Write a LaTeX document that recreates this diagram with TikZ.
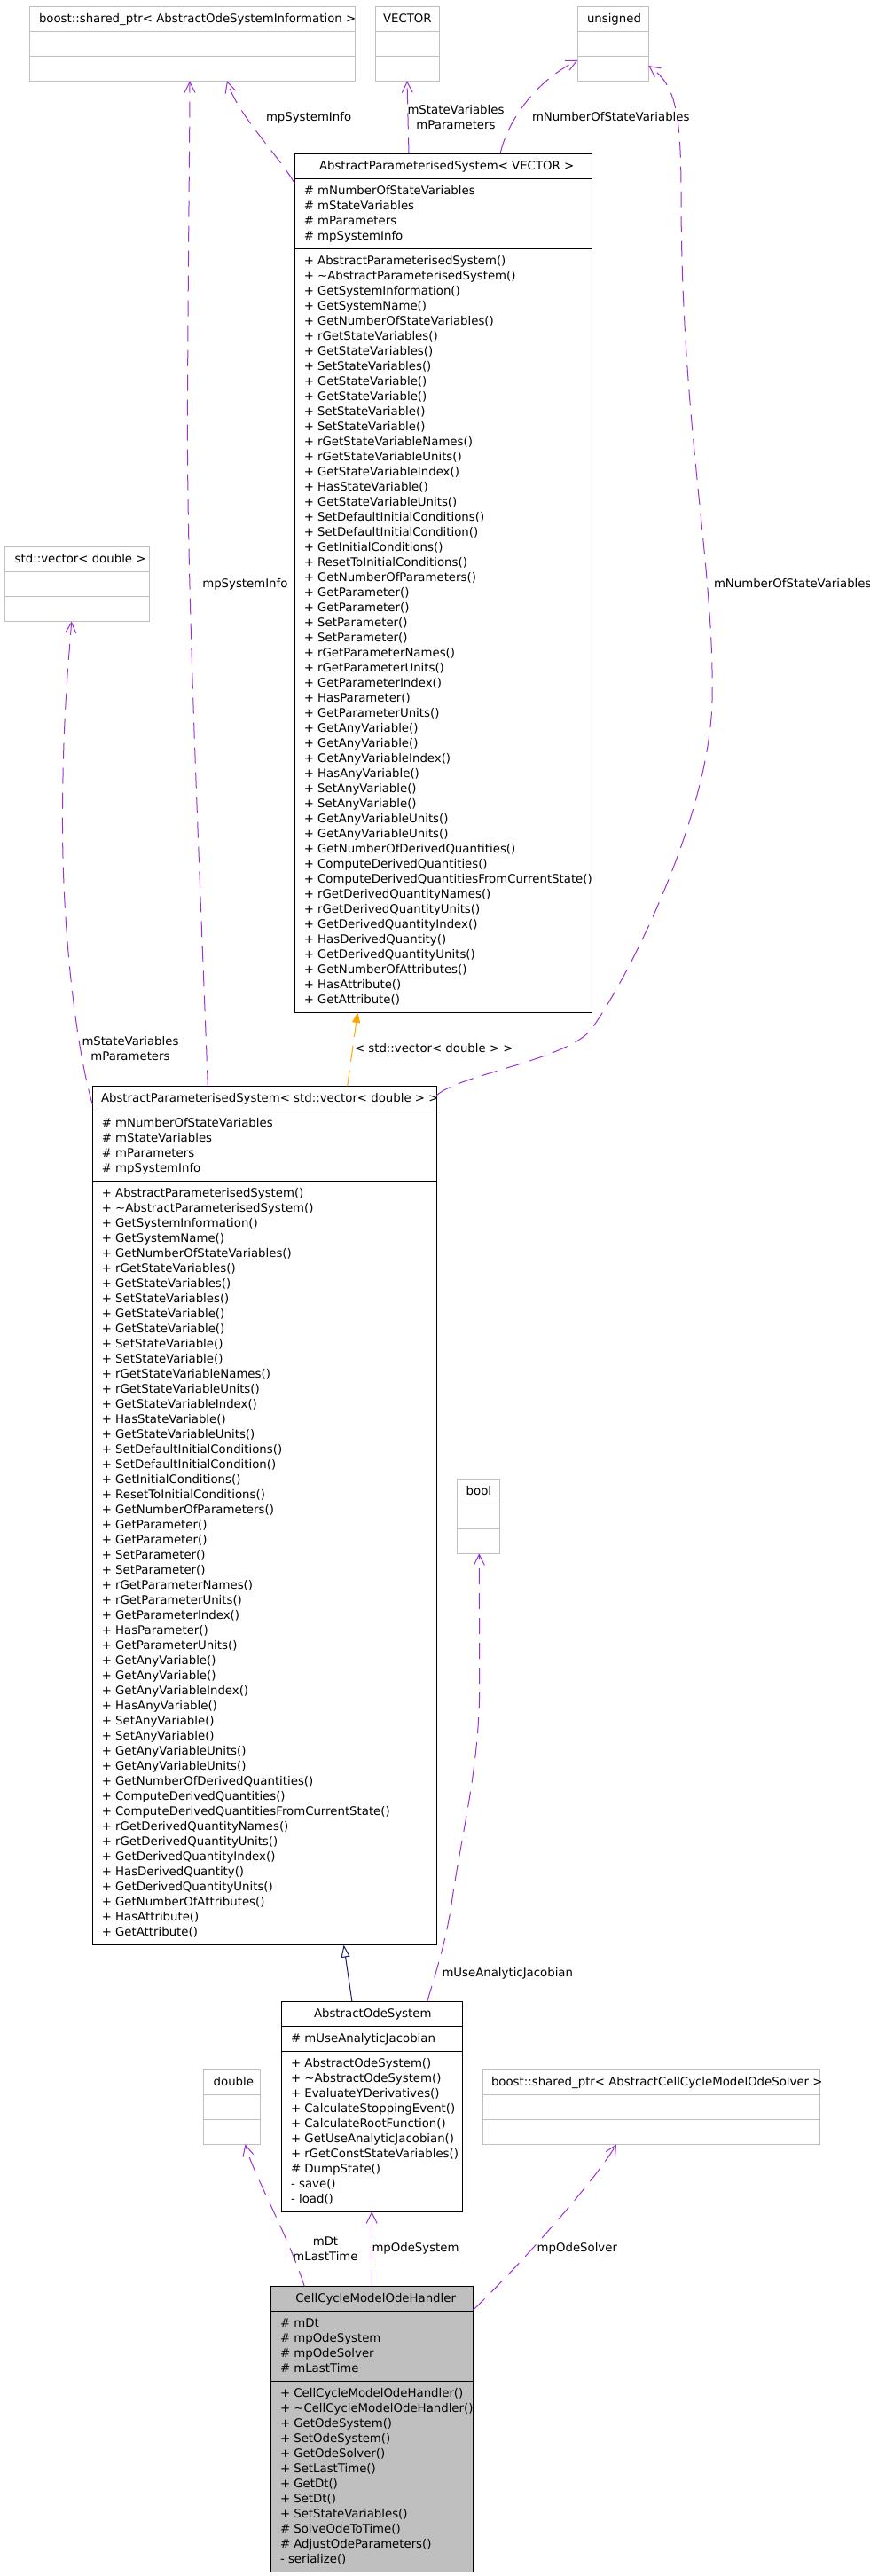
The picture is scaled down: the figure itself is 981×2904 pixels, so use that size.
\documentclass[tikz,border=0pt]{standalone}
\usepackage{fontspec}
\setmainfont{DejaVu Sans}
\usetikzlibrary{arrows.meta}
\definecolor{depc}{HTML}{9A32CD}
\definecolor{tmplc}{HTML}{FFA500}
\definecolor{inhc}{HTML}{191970}
\definecolor{boxgray}{HTML}{BFBFBF}
\tikzset{
  txt/.style={font=\fontsize{13.3}{17}\selectfont, inner sep=0pt, outer sep=0pt},
  mem/.style={txt, anchor=base west},
  lblc/.style={txt, anchor=base},
  cls/.style={draw=black, line width=1pt, inner sep=0pt, outer sep=0pt, anchor=north west},
  ext/.style={draw=boxgray, line width=1pt, inner sep=0pt, outer sep=0pt, anchor=north west},
  sepk/.style={draw=black, line width=1pt},
  sepg/.style={draw=boxgray, line width=1pt},
  depline/.style={draw=depc, line width=1pt, dash pattern=on 18pt off 10pt, -{Straight Barb[length=12pt,width=12pt]}},
  tmplline/.style={draw=tmplc, line width=1pt, dash pattern=on 18pt off 10pt, -{Triangle[length=12pt,width=9pt]}},
  inhline/.style={draw=inhc, line width=1pt, -{Triangle[length=14pt,width=10pt,fill=white]}},
}
\newcommand\members[4]{\foreach \mtext [count=\mi from 0] in #4 {\node[mem] (#1\mi) at (#2,#3+17*\mi) {\mtext};}}
\def\apsattrs{\# mNumberOfStateVariables,\# mStateVariables,\# mParameters,\# mpSystemInfo}
\def\apsmethods{+ AbstractParameterisedSystem(),+ \textasciitilde AbstractParameterisedSystem(),+ GetSystemInformation(),+ GetSystemName(),+ GetNumberOfStateVariables(),+ rGetStateVariables(),+ GetStateVariables(),+ SetStateVariables(),+ GetStateVariable(),+ GetStateVariable(),+ SetStateVariable(),+ SetStateVariable(),+ rGetStateVariableNames(),+ rGetStateVariableUnits(),+ GetStateVariableIndex(),+ HasStateVariable(),+ GetStateVariableUnits(),+ SetDefaultInitialConditions(),+ SetDefaultInitialCondition(),+ GetInitialConditions(),+ ResetToInitialConditions(),+ GetNumberOfParameters(),+ GetParameter(),+ GetParameter(),+ SetParameter(),+ SetParameter(),+ rGetParameterNames(),+ rGetParameterUnits(),+ GetParameterIndex(),+ HasParameter(),+ GetParameterUnits(),+ GetAnyVariable(),+ GetAnyVariable(),+ GetAnyVariableIndex(),+ HasAnyVariable(),+ SetAnyVariable(),+ SetAnyVariable(),+ GetAnyVariableUnits(),+ GetAnyVariableUnits(),+ GetNumberOfDerivedQuantities(),+ ComputeDerivedQuantities(),+ ComputeDerivedQuantitiesFromCurrentState(),+ rGetDerivedQuantityNames(),+ rGetDerivedQuantityUnits(),+ GetDerivedQuantityIndex(),+ HasDerivedQuantity(),+ GetDerivedQuantityUnits(),+ GetNumberOfAttributes(),+ HasAttribute(),+ GetAttribute()}
\begin{document}
\begin{tikzpicture}[x=1pt,y=-1pt]
\fill[white] (0,0) rectangle (981,2904);
\useasboundingbox (0,0) rectangle (981,2904);
% ---------- boxes ----------
\node[ext, minimum width=367pt, minimum height=84pt] (boostI) at (33,7.3) {};
\draw[sepg] (boostI.west |- 0,35.3) -- (boostI.east |- 0,35.3);
\draw[sepg] (boostI.west |- 0,63.3) -- (boostI.east |- 0,63.3);
\node[ext, minimum width=72pt, minimum height=84pt] (vec) at (423,7.3) {};
\draw[sepg] (vec.west |- 0,35.3) -- (vec.east |- 0,35.3);
\draw[sepg] (vec.west |- 0,63.3) -- (vec.east |- 0,63.3);
\node[ext, minimum width=80pt, minimum height=84pt] (unsg) at (651.3,7.3) {};
\draw[sepg] (unsg.west |- 0,35.3) -- (unsg.east |- 0,35.3);
\draw[sepg] (unsg.west |- 0,63.3) -- (unsg.east |- 0,63.3);
\node[cls, minimum width=335pt, minimum height=967.7pt] (aps1) at (332.3,173.3) {};
\draw[sepk] (aps1.west |- 0,201.7) -- (aps1.east |- 0,201.7);
\draw[sepk] (aps1.west |- 0,280.5) -- (aps1.east |- 0,280.5);
\node[ext, minimum width=163.4pt, minimum height=84pt] (stdvec) at (5.3,616.5) {};
\draw[sepg] (stdvec.west |- 0,644.5) -- (stdvec.east |- 0,644.5);
\draw[sepg] (stdvec.west |- 0,672.5) -- (stdvec.east |- 0,672.5);
\node[cls, minimum width=388pt, minimum height=968.2pt] (aps2) at (104.3,1224.3) {};
\draw[sepk] (aps2.west |- 0,1252.3) -- (aps2.east |- 0,1252.3);
\draw[sepk] (aps2.west |- 0,1331.3) -- (aps2.east |- 0,1331.3);
\node[ext, minimum width=48pt, minimum height=84pt] (boolbox) at (515.3,1667.3) {};
\draw[sepg] (boolbox.west |- 0,1695.3) -- (boolbox.east |- 0,1695.3);
\draw[sepg] (boolbox.west |- 0,1723.3) -- (boolbox.east |- 0,1723.3);
\node[cls, minimum width=203.7pt, minimum height=237pt] (aos) at (317.6,2256.3) {};
\draw[sepk] (aos.west |- 0,2284.3) -- (aos.east |- 0,2284.3);
\draw[sepk] (aos.west |- 0,2312.3) -- (aos.east |- 0,2312.3);
\node[ext, minimum width=64.4pt, minimum height=84pt] (dbl) at (229.3,2333.3) {};
\draw[sepg] (dbl.west |- 0,2361.3) -- (dbl.east |- 0,2361.3);
\draw[sepg] (dbl.west |- 0,2389.3) -- (dbl.east |- 0,2389.3);
\node[ext, minimum width=380pt, minimum height=84pt] (boostS) at (544.6,2333.3) {};
\draw[sepg] (boostS.west |- 0,2361.3) -- (boostS.east |- 0,2361.3);
\draw[sepg] (boostS.west |- 0,2389.3) -- (boostS.east |- 0,2389.3);
\node[cls, fill=boxgray, minimum width=228.1pt, minimum height=322pt] (ccm) at (305.5,2577.3) {};
\draw[sepk] (ccm.west |- 0,2605.3) -- (ccm.east |- 0,2605.3);
\draw[sepk] (ccm.west |- 0,2684.3) -- (ccm.east |- 0,2684.3);
% ---------- connectors ----------
\draw[depline] (234.3,0 |- aps2.north) .. controls (224,950) and (210,650) .. (211.5,450) .. controls (212.5,250) and (214,150) .. (214,0 |- boostI.south);
\draw[depline] (aps1.west |- 0,207) .. controls (318,180) and (268,130) .. (256,0 |- boostI.south);
\draw[depline] (461,0 |- aps1.north) -- (459,0 |- vec.south);
\draw[depline] (564,0 |- aps1.north) .. controls (574,130) and (610,88) .. (unsg.west |- 0,68);
\draw[depline] (aps2.east |- 0,1235) .. controls (515,1212) and (640,1195) .. (667,1160) .. controls (710,1100) and (800,920) .. (803,790) .. controls (806,640) and (768,480) .. (768,220) .. controls (768,120) and (760,95) .. (unsg.east |- 0,74);
\draw[depline] (aps2.west |- 0,1245) .. controls (88,1190) and (70,1060) .. (70.5,920) .. controls (71,800) and (78,740) .. (80.7,0 |- stdvec.south);
\draw[tmplline] (391.7,0 |- aps2.north) -- (403.3,0 |- aps1.south);
\draw[inhline] (396.9,0 |- aos.north) -- (387.6,0 |- aps2.south);
\draw[depline] (481.7,0 |- aos.north) .. controls (492,2222) and (504,2185) .. (510,2140) .. controls (522,2060) and (540.7,1990) .. (540.7,1900) -- (540.3,0 |- boolbox.south);
\draw[depline] (343.2,0 |- ccm.north) .. controls (325,2520) and (285,2450) .. (276.5,0 |- dbl.south);
\draw[depline] (419.2,0 |- ccm.north) -- (419.2,0 |- aos.south);
\draw[depline] (ccm.east |- 0,2604) .. controls (580,2560) and (670,2460) .. (695,0 |- boostS.south);
% ---------- titles ----------
\node[mem] (boostIt) at (44,25.3) {boost::shared\_ptr< AbstractOdeSystemInformation >};
\node[mem] (vect) at (432,25.3) {VECTOR};
\node[mem] (unsgt) at (662,25.3) {unsigned};
\node[mem] (aps1t) at (360,191.3) {AbstractParameterisedSystem< VECTOR >};
\node[mem] (stdvect) at (16.7,634.5) {std::vector< double >};
\node[mem] (aps2t) at (114,1242.3) {AbstractParameterisedSystem< std::vector< double > >};
\node[mem] (boolt) at (525.7,1685.3) {bool};
\node[mem] (aost) at (354,2274.3) {AbstractOdeSystem};
\node[mem] (dblt) at (240.7,2351.3) {double};
\node[mem] (boostSt) at (554,2351.3) {boost::shared\_ptr< AbstractCellCycleModelOdeSolver >};
\node[mem] (ccmt) at (333.4,2595.3) {CellCycleModelOdeHandler};
% ---------- members ----------
\members{aps1a}{342.8}{219.7}{\apsattrs}
\members{aps1m}{342.8}{298.5}{\apsmethods}
\members{aps2a}{114.8}{1270.3}{\apsattrs}
\members{aps2m}{114.8}{1349.3}{\apsmethods}
\members{aosa}{328.1}{2302.3}{{\# mUseAnalyticJacobian}}
\members{aosm}{328.1}{2330.3}{{+ AbstractOdeSystem(),+ \textasciitilde AbstractOdeSystem(),+ EvaluateYDerivatives(),+ CalculateStoppingEvent(),+ CalculateRootFunction(),+ GetUseAnalyticJacobian(),+ rGetConstStateVariables(),\# DumpState(),- save(),- load()}}
\members{ccma}{316}{2623.3}{{\# mDt,\# mpOdeSystem,\# mpOdeSolver,\# mLastTime}}
\members{ccmm}{316}{2702.3}{{+ CellCycleModelOdeHandler(),+ \textasciitilde CellCycleModelOdeHandler(),+ GetOdeSystem(),+ SetOdeSystem(),+ GetOdeSolver(),+ SetLastTime(),+ GetDt(),+ SetDt(),+ SetStateVariables(),\# SolveOdeToTime(),\# AdjustOdeParameters(),- serialize()}}
% ---------- edge labels ----------
\node[mem] (l1) at (300,136) {mpSystemInfo};
\node[lblc] (l2a) at (514,128) {mStateVariables};
\node[lblc] (l2b) at (514,145) {mParameters};
\node[mem] (l3) at (600,136) {mNumberOfStateVariables};
\node[mem] (l4) at (805,662) {mNumberOfStateVariables};
\node[mem] (l5) at (228.3,662) {mpSystemInfo};
\node[lblc] (l6a) at (147,1178) {mStateVariables};
\node[lblc] (l6b) at (147,1195) {mParameters};
\node[mem] (l7) at (400,1186) {< std::vector< double > >};
\node[mem] (l8) at (498.5,2228) {mUseAnalyticJacobian};
\node[lblc] (l9a) at (367,2531) {mDt};
\node[lblc] (l9b) at (367,2548) {mLastTime};
\node[mem] (l10) at (419.5,2538) {mpOdeSystem};
\node[mem] (l11) at (605.7,2538) {mpOdeSolver};
\end{tikzpicture}
\end{document}
